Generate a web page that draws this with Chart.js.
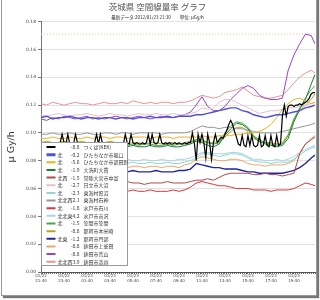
<!DOCTYPE html>
<html lang="ja">
<head>
<meta charset="utf-8">
<title>茨城県 空間線量率 グラフ</title>
<script src="https://cdn.jsdelivr.net/npm/chart.js@4.4.1/dist/chart.umd.min.js"></script>
<style>
  html, body { margin: 0; padding: 0; background: #fff; }
  #wrap { position: relative; width: 320px; height: 300px; }
  #frame {
    position: absolute; left: 1px; top: -2px; width: 314px; height: 296px;
    border: 1px solid #9a9a9a; box-shadow: 2px 2px 1px #777; pointer-events: none;
  }
</style>
</head>
<body>
<div id="wrap">
  <canvas id="chart" width="320" height="300"></canvas>
  <div id="frame"></div>
</div>
<script>
// Libellés de l'axe X (toutes les 2 heures, pas de 10 min)
const tickLabels = [
  ['01/22', '21:40'], ['01/22', '23:40'], ['01/23', '01:40'], ['01/23', '03:40'],
  ['01/23', '05:40'], ['01/23', '07:40'], ['01/23', '09:40'], ['01/23', '11:40'],
  ['01/23', '13:40'], ['01/23', '15:40'], ['01/23', '17:40'], ['01/23', '19:40']
];

// Stations (ordre de la légende)
const stations = [
  'つくば(KEK)', 'ひたちなか市堀口', 'ひたちなか市部田野', '大洗町大貫', '常陸大宮市中富',
  '日立市大沼', '東海村照沼', '東海村石神', '水戸市石川', '水戸市吉沢', '笠間市笠間',
  '那珂市本米崎', '那珂市門部', '鉾田市上釜田', '鉾田市荒山', '鉾田市造谷'
];
const windDirs = ['', '北', '北', '北', '北西', '北', '北', '北北西', '北', '北北東', '北', '', '北東', '', '', '北北西'];
const windVals = ['-8.8', '-0.2', '-5.6', '-1.9', '-1.5', '-2.7', '-2.3', '2.1', '-1.8', '4.2', '-1.5', '-8.8', '-1.2', '-8.8', '-8.8', '3.9'];
const colors = [
  '#000000', '#5050d8', '#f0b020', '#1f7a3a', '#b04850', '#e4c0d0', '#8fd8d0', '#959595',
  '#d83838', '#a8d4ec', '#48a848', '#b0a820', '#20289a', '#e8a868', '#9a44c8', '#e89490'
];

// つくば(KEK) : pas de 10 min (144 points)
const vKek = [
  0.092, 0.093, 0.092, 0.093, 0.092, 0.092, 0.093, 0.092, 0.093, 0.092, 0.093, 0.099,
  0.093, 0.092, 0.099, 0.092, 0.093, 0.092, 0.099, 0.093, 0.092, 0.093, 0.092, 0.092,
  0.093, 0.092, 0.093, 0.092, 0.093, 0.099, 0.092, 0.099, 0.093, 0.092, 0.093, 0.092,
  0.092, 0.093, 0.092, 0.093, 0.092, 0.092, 0.093, 0.092, 0.099, 0.093, 0.092, 0.099,
  0.093, 0.092, 0.093, 0.092, 0.092, 0.093, 0.092, 0.093, 0.099, 0.092, 0.099, 0.093,
  0.092, 0.093, 0.099, 0.093, 0.092, 0.093, 0.092, 0.093, 0.092, 0.092, 0.093, 0.092,
  0.093, 0.092, 0.092, 0.093, 0.092, 0.093, 0.093, 0.100, 0.093, 0.080, 0.099, 0.093,
  0.099, 0.093, 0.082, 0.099, 0.093, 0.081, 0.093, 0.099, 0.093, 0.095, 0.097, 0.096,
  0.099, 0.102, 0.106, 0.109, 0.106, 0.101, 0.097, 0.092, 0.091, 0.098, 0.091, 0.090,
  0.098, 0.091, 0.098, 0.091, 0.090, 0.091, 0.098, 0.090, 0.091, 0.098, 0.091, 0.090,
  0.098, 0.091, 0.090, 0.098, 0.091, 0.092, 0.112, 0.120, 0.112, 0.119, 0.120, 0.120,
  0.119, 0.120, 0.120, 0.121, 0.120, 0.121, 0.122, 0.123, 0.125, 0.128, 0.129, 0.129
];

// Autres stations : pas de 30 min (49 points)
const vHoriguchi = [
  0.111, 0.112, 0.110, 0.111, 0.111, 0.112, 0.111, 0.110, 0.111, 0.111,
  0.110, 0.111, 0.111, 0.110, 0.111, 0.111, 0.110, 0.111, 0.111, 0.112,
  0.111, 0.111, 0.112, 0.111, 0.112, 0.112, 0.112,
  0.113, 0.113, 0.114, 0.115, 0.116, 0.117, 0.118, 0.118, 0.116, 0.115,
  0.113, 0.112, 0.111, 0.112, 0.113, 0.113, 0.114, 0.115, 0.116, 0.118, 0.119, 0.120
];
const vBuda = [
  0.096, 0.096, 0.097, 0.096, 0.096, 0.097, 0.096, 0.096, 0.097, 0.096,
  0.097, 0.097, 0.096, 0.097, 0.097, 0.096, 0.097, 0.097, 0.097, 0.096,
  0.097, 0.097, 0.097, 0.096, 0.097, 0.097, 0.097,
  0.097, 0.098, 0.097, 0.097, 0.098, 0.098, 0.098, 0.099, 0.099, 0.100,
  0.100, 0.101, 0.103, 0.106, 0.111, 0.117, 0.121, 0.124, 0.125, 0.123, 0.121, 0.122
];
const vOnuki = [
  0.092, 0.092, 0.091, 0.092, 0.092, 0.091, 0.092, 0.092, 0.091, 0.092,
  0.091, 0.091, 0.092, 0.091, 0.091, 0.090, 0.091, 0.090, 0.090, 0.091,
  0.090, 0.090, 0.091, 0.090, 0.090, 0.091, 0.092,
  0.094, 0.093, 0.091, 0.090, 0.092, 0.098, 0.103, 0.107, 0.106, 0.103,
  0.097, 0.094, 0.092, 0.091, 0.090, 0.091, 0.096, 0.108, 0.117, 0.124, 0.135, 0.142
];
const vOmiya = [
  0.064, 0.064, 0.065, 0.064, 0.064, 0.063, 0.064, 0.064, 0.065, 0.064,
  0.064, 0.063, 0.064, 0.064, 0.064, 0.065, 0.064, 0.064, 0.063, 0.064,
  0.064, 0.064, 0.065, 0.064, 0.064, 0.064, 0.065,
  0.066, 0.066, 0.067, 0.066, 0.068, 0.070, 0.071, 0.071, 0.071, 0.071,
  0.070, 0.070, 0.071, 0.070, 0.070, 0.069, 0.070, 0.071, 0.085, 0.092, 0.095, 0.097
];
const vOnuma = [
  0.113, 0.112, 0.113, 0.114, 0.113, 0.112, 0.113, 0.113, 0.114, 0.113,
  0.112, 0.113, 0.114, 0.113, 0.113, 0.112, 0.113, 0.114, 0.113, 0.113,
  0.114, 0.113, 0.113, 0.114, 0.113, 0.113, 0.114,
  0.115, 0.118, 0.117, 0.118, 0.122, 0.124, 0.124, 0.122, 0.120, 0.118,
  0.116, 0.114, 0.115, 0.116, 0.116, 0.117, 0.118, 0.118, 0.119, 0.120, 0.121, 0.122
];
const vTerunuma = [
  0.078, 0.078, 0.079, 0.078, 0.078, 0.079, 0.078, 0.078, 0.079, 0.078,
  0.078, 0.077, 0.076, 0.077, 0.078, 0.078, 0.079, 0.078, 0.078, 0.079,
  0.078, 0.078, 0.079, 0.078, 0.078, 0.079, 0.080,
  0.082, 0.085, 0.085, 0.084, 0.083, 0.084, 0.085, 0.085, 0.084, 0.082,
  0.080, 0.079, 0.079, 0.078, 0.079, 0.079, 0.079, 0.081, 0.084, 0.087, 0.089, 0.090
];
const vIshigami = [
  0.099, 0.099, 0.100, 0.099, 0.099, 0.100, 0.099, 0.099, 0.100, 0.099,
  0.099, 0.100, 0.100, 0.099, 0.100, 0.100, 0.099, 0.100, 0.100, 0.100,
  0.100, 0.099, 0.100, 0.100, 0.100, 0.100, 0.101,
  0.103, 0.105, 0.104, 0.104, 0.103, 0.104, 0.104, 0.103, 0.103, 0.102,
  0.101, 0.100, 0.100, 0.100, 0.100, 0.101, 0.102, 0.103, 0.104, 0.105, 0.106, 0.107
];
const vIshikawa = [
  0.058, 0.058, 0.059, 0.058, 0.058, 0.059, 0.058, 0.058, 0.058, 0.059,
  0.058, 0.058, 0.059, 0.058, 0.058, 0.058, 0.059, 0.058, 0.058, 0.059,
  0.058, 0.058, 0.058, 0.059, 0.058, 0.059, 0.061,
  0.064, 0.065, 0.064, 0.063, 0.062, 0.062, 0.061, 0.060, 0.060, 0.060,
  0.059, 0.059, 0.059, 0.058, 0.059, 0.059, 0.059, 0.060, 0.062, 0.064, 0.063, 0.062
];
const vYoshizawa = [
  0.080, 0.080, 0.081, 0.080, 0.080, 0.081, 0.080, 0.080, 0.080, 0.081,
  0.080, 0.080, 0.081, 0.080, 0.080, 0.081, 0.080, 0.080, 0.081, 0.080,
  0.080, 0.081, 0.080, 0.080, 0.081, 0.081, 0.082,
  0.084, 0.086, 0.086, 0.085, 0.085, 0.085, 0.086, 0.086, 0.085, 0.083,
  0.081, 0.081, 0.080, 0.080, 0.081, 0.080, 0.081, 0.083, 0.086, 0.088, 0.090, 0.091
];
const vKasama = [
  0.093, 0.093, 0.092, 0.093, 0.093, 0.092, 0.093, 0.092, 0.092, 0.093,
  0.092, 0.092, 0.093, 0.092, 0.092, 0.091, 0.092, 0.091, 0.092, 0.092,
  0.091, 0.091, 0.092, 0.091, 0.092, 0.092, 0.093,
  0.095, 0.095, 0.093, 0.092, 0.093, 0.100, 0.105, 0.108, 0.107, 0.104,
  0.098, 0.095, 0.093, 0.092, 0.091, 0.092, 0.098, 0.110, 0.118, 0.125, 0.131, 0.134
];
const vHommai = [
  0.093, 0.094, 0.093, 0.093, 0.094, 0.093, 0.093, 0.094, 0.093, 0.093,
  0.093, 0.093, 0.094, 0.093, 0.093, 0.092, 0.093, 0.093, 0.092, 0.093,
  0.093, 0.092, 0.093, 0.093, 0.092, 0.093, 0.094,
  0.095, 0.094, 0.093, 0.093, 0.094, 0.097, 0.101, 0.104, 0.104, 0.101,
  0.096, 0.094, 0.093, 0.093, 0.092, 0.093, 0.099, 0.110, 0.116, 0.120, 0.124, 0.128
];
const vKadobe = [
  0.072, 0.072, 0.073, 0.072, 0.072, 0.073, 0.072, 0.072, 0.072, 0.073,
  0.072, 0.072, 0.073, 0.072, 0.072, 0.072, 0.073, 0.072, 0.072, 0.072,
  0.073, 0.072, 0.072, 0.072, 0.073, 0.073, 0.074,
  0.078, 0.077, 0.076, 0.075, 0.075, 0.074, 0.074, 0.074, 0.073, 0.072,
  0.072, 0.071, 0.071, 0.071, 0.071, 0.071, 0.072, 0.073, 0.075, 0.078, 0.082, 0.084
];
const vKamikamata = [
  0.076, 0.075, 0.076, 0.076, 0.075, 0.076, 0.076, 0.075, 0.076, 0.076,
  0.075, 0.076, 0.075, 0.076, 0.076, 0.075, 0.076, 0.076, 0.075, 0.076,
  0.076, 0.075, 0.076, 0.076, 0.075, 0.077, 0.078,
  0.081, 0.083, 0.082, 0.081, 0.080, 0.080, 0.081, 0.081, 0.080, 0.078,
  0.077, 0.077, 0.076, 0.077, 0.077, 0.077, 0.078, 0.080, 0.086, 0.092, 0.096, 0.098
];
const vArayama = [
  0.110, 0.109, 0.111, 0.110, 0.112, 0.111, 0.110, 0.111, 0.112, 0.110,
  0.111, 0.110, 0.111, 0.112, 0.111, 0.110, 0.111, 0.112, 0.111, 0.110,
  0.111, 0.112, 0.111, 0.111, 0.112, 0.113, 0.115,
  0.120, 0.126, 0.119, 0.116, 0.116, 0.119, 0.124, 0.128, 0.132, 0.134,
  0.132, 0.127, 0.125, 0.124, 0.124, 0.125, 0.145, 0.156, 0.164, 0.171, 0.170, 0.164
];
const vTsukuriya = [
  0.121, 0.120, 0.122, 0.121, 0.120, 0.121, 0.122, 0.121, 0.121, 0.120,
  0.121, 0.122, 0.121, 0.121, 0.122, 0.121, 0.123, 0.122, 0.121, 0.122,
  0.121, 0.122, 0.122, 0.121, 0.122, 0.122, 0.123,
  0.125, 0.127, 0.126, 0.125, 0.126, 0.129, 0.130, 0.131, 0.133, 0.130,
  0.127, 0.126, 0.125, 0.125, 0.126, 0.127, 0.131, 0.136, 0.140, 0.143, 0.145, 0.143
];
// ligne pointillée horizontale en haut
const refLevel = [0.171, 0.171];

const seriesValues = [
  vKek, vHoriguchi, vBuda, vOnuki, vOmiya, vOnuma, vTerunuma, vIshigami,
  vIshikawa, vYoshizawa, vKasama, vHommai, vKadobe, vKamikamata, vArayama, vTsukuriya
];

// positions X (index de pas de 10 min, 0 = 01/22 21:40, 143 = 01/23 21:30)
const lastIdx = 143;
const tenMinX = vKek.map((v, i) => i);
const halfHourX = vHoriguchi.map((v, k) => Math.min(k * 3, lastIdx));

function toPoints(values, xs) {
  return values.map((v, i) => ({ x: xs[i], y: v }));
}

const datasets = seriesValues.map((vals, i) => ({
  label: stations[i],
  data: toPoints(vals, i === 0 ? tenMinX : halfHourX),
  borderColor: colors[i],
  borderWidth: i === 0 ? 1.2 : (i === 1 || i === 12 ? 1.4 : 1),
  pointRadius: 0,
  tension: 0,
  fill: false
}));
datasets.push({
  label: '',
  data: toPoints(refLevel, [0, lastIdx]),
  borderColor: '#f0c890',
  borderWidth: 1,
  borderDash: [1, 2],
  pointRadius: 0,
  fill: false
});

// Légende dessinée dans la zone du graphique
const stationLegend = {
  id: 'stationLegend',
  afterDatasetsDraw(chart) {
    const { ctx, chartArea } = chart;
    const left = Math.round(chartArea.left) + 0.5;
    const top = 142.5, width = 86, height = 123;
    ctx.save();
    ctx.fillStyle = '#fff';
    ctx.fillRect(left, top, width, height);
    ctx.strokeStyle = '#9a9a9a';
    ctx.lineWidth = 1;
    ctx.strokeRect(left, top, width, height);
    ctx.beginPath();
    ctx.rect(left, top, width, height);
    ctx.clip();
    ctx.textBaseline = 'middle';
    ctx.font = '5px "Noto Sans CJK JP"';
    stations.forEach((name, i) => {
      const cy = top + 4.5 + i * 7.65;
      ctx.strokeStyle = colors[i];
      ctx.lineWidth = i === 1 ? 3 : 2;
      ctx.beginPath();
      ctx.moveTo(left + 5, cy);
      ctx.lineTo(left + 14, cy);
      ctx.stroke();
      ctx.fillStyle = '#333';
      ctx.textAlign = 'left';
      ctx.fillText(windDirs[i], left + 16, cy);
      ctx.textAlign = 'right';
      ctx.fillText(windVals[i], left + 38, cy);
      ctx.textAlign = 'left';
      ctx.fillText(name, left + 42, cy);
    });
    ctx.restore();
  }
};

new Chart(document.getElementById('chart'), {
  type: 'line',
  data: { datasets: datasets },
  plugins: [stationLegend],
  options: {
    responsive: false,
    animation: false,
    devicePixelRatio: 1,
    layout: { padding: { left: 0, right: 5, top: 0, bottom: 0 } },
    plugins: {
      legend: { display: false },
      tooltip: { enabled: false },
      title: {
        display: true,
        text: '茨城県 空間線量率 グラフ',
        color: '#555',
        font: { family: '"Noto Sans CJK JP"', size: 8.5, weight: 'normal' },
        padding: { top: 2, bottom: 1 }
      },
      subtitle: {
        display: true,
        text: '最新データ:2012/01/23 21:30　　単位: μGy/h',
        color: '#222',
        font: { family: '"Noto Sans CJK JP"', size: 4.5 },
        padding: { top: 1, bottom: 2 }
      }
    },
    scales: {
      x: {
        type: 'linear',
        min: 0,
        max: lastIdx,
        afterFit: (s) => { s.height = 28; },
        border: { color: '#555' },
        grid: { drawOnChartArea: false, tickLength: 2, tickColor: '#666' },
        ticks: {
          stepSize: 1,
          autoSkip: false,
          maxRotation: 0,
          minRotation: 0,
          padding: 0,
          color: '#444',
          font: { family: '"DejaVu Sans"', size: 4, lineHeight: 1.1 },
          callback: (v) => (v % 12 === 0 && v < lastIdx ? tickLabels[v / 12] : '')
        }
      },
      y: {
        min: 0,
        max: 0.18,
        afterFit: (s) => { s.width = 41; },
        border: { color: '#777' },
        grid: { color: '#e2e2e2', tickLength: 3, tickColor: '#777' },
        ticks: {
          stepSize: 0.02,
          padding: 2,
          color: '#444',
          font: { family: '"DejaVu Sans"', size: 4.5 },
          callback: (v) => v.toFixed(2)
        },
        title: {
          display: true,
          text: 'μ Gy/h',
          color: '#333',
          font: { family: '"DejaVu Sans"', size: 9.5 },
          padding: { top: 6, bottom: 0 }
        }
      }
    }
  }
});
</script>
</body>
</html>
